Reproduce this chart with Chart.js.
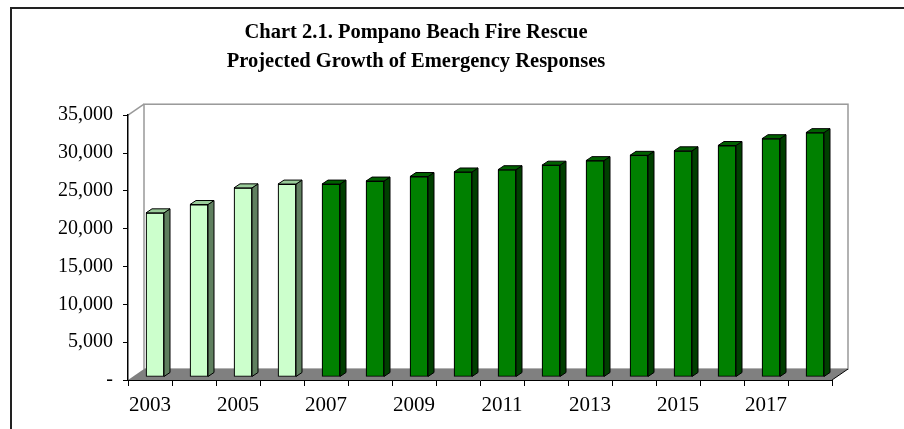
<!DOCTYPE html>
<html>
<head>
<meta charset="utf-8">
<script src="https://cdn.jsdelivr.net/npm/chart.js@4.4.0/dist/chart.umd.min.js"></script>
<style>
  body { margin: 0; background: #fff; }
  #wrap { width: 904px; height: 429px; }
</style>
</head>
<body>
<div id="wrap"><canvas id="myChart"></canvas></div>
<script>
// data
var years = ['2003','2004','2005','2006','2007','2008','2009','2010',
             '2011','2012','2013','2014','2015','2016','2017','2018'];
var responses = [21700, 22800, 25000, 25500, 25500, 25900, 26500, 27100,
                 27400, 28000, 28600, 29300, 29900, 30600, 31500, 32300];
var actualCount = 4; // first years are actual counts, the rest projected
var yTicks = [0, 5000, 10000, 15000, 20000, 25000, 30000, 35000];

var frontColors = years.map(function(y, i){ return i < actualCount ? '#ccffcc' : '#008000'; });
var sideColors  = years.map(function(y, i){ return i < actualCount ? '#5f7f5f' : '#003f00'; });
var topColors   = years.map(function(y, i){ return i < actualCount ? '#99cc99' : '#006000'; });

// depth of the walls and of the bars
var wallDx = 16, wallDy = -11;
var barShiftX = 5, barShiftY = -3;
var barDx = 6, barDy = -4;

var walls3d = {
  id: 'walls3d',
  beforeDraw: function(chart){
    var c = chart.ctx, a = chart.chartArea;
    c.save();
    // outer frame
    c.strokeStyle = '#222';
    c.lineWidth = 2;
    c.beginPath();
    c.moveTo(11, 429); c.lineTo(11, 8); c.lineTo(904, 8);
    c.stroke();
    // back wall
    c.strokeStyle = '#999';
    c.lineWidth = 1.5;
    c.strokeRect(a.left + wallDx, a.top + wallDy, a.right - a.left, a.bottom - a.top);
    // left wall top edge
    c.beginPath();
    c.moveTo(a.left, a.top); c.lineTo(a.left + wallDx, a.top + wallDy);
    c.stroke();
    // floor
    c.fillStyle = '#808080';
    c.beginPath();
    c.moveTo(a.left, a.bottom);
    c.lineTo(a.right, a.bottom);
    c.lineTo(a.right + wallDx, a.bottom + wallDy);
    c.lineTo(a.left + wallDx, a.bottom + wallDy);
    c.closePath();
    c.fill();
    c.strokeStyle = '#000';
    c.lineWidth = 1;
    c.beginPath();
    c.moveTo(a.right, a.bottom); c.lineTo(a.right + wallDx, a.bottom + wallDy);
    c.stroke();
    c.restore();
  },
  beforeDatasetsDraw: function(chart){
    chart.ctx.save();
    chart.ctx.translate(barShiftX, barShiftY);
  },
  afterDatasetsDraw: function(chart){
    var c = chart.ctx;
    var meta = chart.getDatasetMeta(0);
    c.lineWidth = 1;
    c.strokeStyle = '#000';
    meta.data.forEach(function(bar, i){
      var l = bar.x - bar.width / 2, r = bar.x + bar.width / 2, t = bar.y, b = bar.base;
      // side face
      c.fillStyle = sideColors[i];
      c.beginPath();
      c.moveTo(r, b); c.lineTo(r + barDx, b + barDy);
      c.lineTo(r + barDx, t + barDy); c.lineTo(r, t);
      c.closePath(); c.fill(); c.stroke();
      // top face
      c.fillStyle = topColors[i];
      c.beginPath();
      c.moveTo(l, t); c.lineTo(l + barDx, t + barDy);
      c.lineTo(r + barDx, t + barDy); c.lineTo(r, t);
      c.closePath(); c.fill(); c.stroke();
    });
    c.restore();
  }
};

var ctx = document.getElementById('myChart').getContext('2d');
var chart = new Chart(ctx, {
    type: 'bar',
    data: {
        labels: years,
        datasets: [{
            label: 'Emergency Responses',
            data: responses,
            backgroundColor: frontColors,
            borderColor: '#000',
            borderWidth: 1.2,
            borderSkipped: false,
            barThickness: 18
        }]
    },
    options: {
        responsive: true,
        maintainAspectRatio: false,
        animation: false,
        layout: { padding: { left: 0, right: 72, top: 0, bottom: 0 } },
        plugins: {
            legend: { display: false },
            tooltip: { enabled: false },
            title: {
                display: true,
                text: ['Chart 2.1. Pompano Beach Fire Rescue', 'Projected Growth of Emergency Responses'],
                color: '#000',
                font: { family: '"Liberation Serif", "Times New Roman", serif', size: 20.5, weight: 'bold', lineHeight: 1.42 },
                padding: { top: 18, bottom: 39 }
            }
        },
        scales: {
            x: {
                grid: { display: true, offset: true, drawOnChartArea: false, drawTicks: true, tickLength: 6, color: '#000' },
                border: { display: true, color: '#000', width: 1 },
                ticks: {
                    autoSkip: false,
                    maxRotation: 0,
                    padding: 7,
                    color: '#000',
                    font: { family: '"Liberation Serif", "Times New Roman", serif', size: 21 },
                    callback: function(v, i){ return i % 2 === 0 ? years[i] : ''; }
                },
                afterFit: function(scale){ scale.height = 49; }
            },
            y: {
                min: yTicks[0],
                max: yTicks[yTicks.length - 1],
                afterBuildTicks: function(scale){
                    scale.ticks = yTicks.map(function(v){ return { value: v }; });
                },
                grid: { display: true, drawOnChartArea: false, drawTicks: true, tickLength: 5, color: '#000' },
                border: { display: true, color: '#000', width: 1.5 },
                ticks: {
                    padding: 10,
                    color: '#000',
                    font: { family: '"Liberation Serif", "Times New Roman", serif', size: 20 },
                    callback: function(v){ return v === 0 ? '-' : v.toLocaleString('en-US'); }
                },
                afterFit: function(scale){ scale.width = 128; }
            }
        }
    },
    plugins: [walls3d]
});
</script>
</body>
</html>
